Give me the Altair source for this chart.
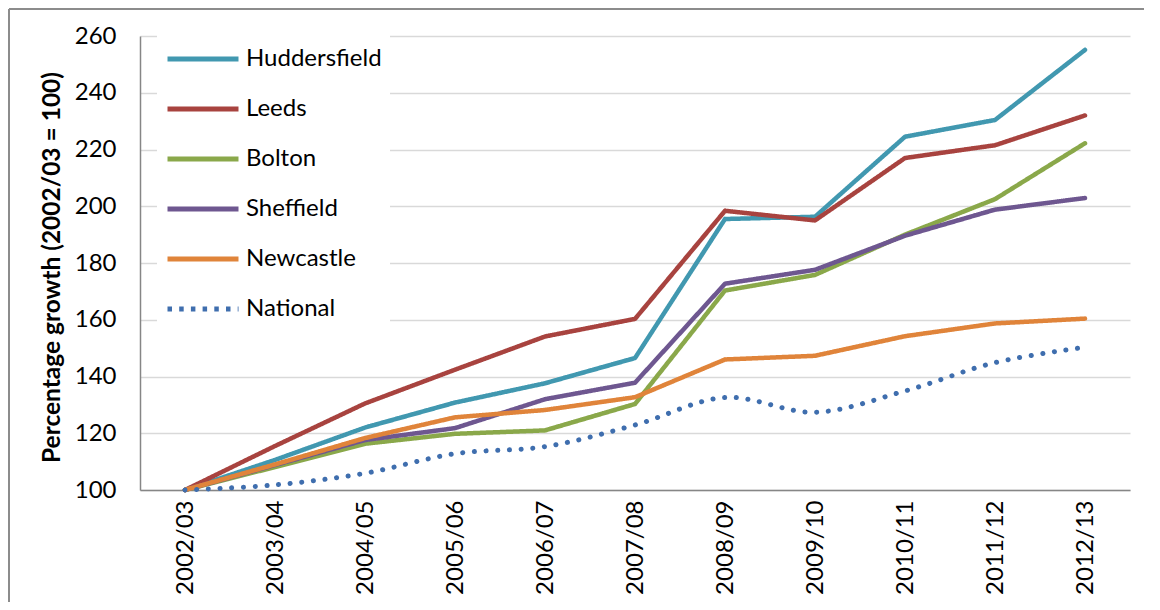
import altair as alt
import pandas as pd

FONT = "Lato"

years = ["2002/03", "2003/04", "2004/05", "2005/06", "2006/07", "2007/08",
         "2008/09", "2009/10", "2010/11", "2011/12", "2012/13"]

huddersfield = [100, 110.6, 122.0, 130.8, 137.6, 146.5, 195.5, 196.3, 224.5, 230.4, 255.1]
leeds = [100, 115.5, 130.5, 142.4, 154.1, 160.3, 198.4, 195.0, 217.0, 221.5, 232.0]
bolton = [100, 108.1, 116.3, 119.8, 121.0, 130.3, 170.3, 175.8, 190.0, 202.5, 222.2]
sheffield = [100, 108.8, 117.6, 121.8, 132.0, 137.8, 172.7, 177.6, 189.6, 198.8, 202.9]
newcastle = [100, 109.0, 118.3, 125.6, 128.2, 132.7, 146.0, 147.3, 154.2, 158.7, 160.4]
national = [100, 101.8, 105.9, 112.8, 115.3, 122.9, 132.6, 127.4, 134.9, 144.9, 150.3]

series_names = ["Huddersfield", "Leeds", "Bolton", "Sheffield", "Newcastle", "National"]
series_values = [huddersfield, leeds, bolton, sheffield, newcastle, national]
colors = ["#4198B0", "#A8433F", "#8AA84A", "#6E5790", "#E0843A", "#3F6EAE"]
# legend dash patterns (National drawn dotted)
legend_dashes = [[1, 0], [1, 0], [1, 0], [1, 0], [1, 0], [4.5, 7.2]]
national_dash = [0.1, 11.6]

y_ticks = [100, 120, 140, 160, 180, 200, 220, 240, 260]

rows = []
for name, vals in zip(series_names, series_values):
    for yr, v in zip(years, vals):
        rows.append({"series": name, "year": yr, "value": v})
df = pd.DataFrame(rows)

legend = alt.Legend(
    title=None, orient="none", legendX=17, legendY=-23,
    fillColor="white", padding=8,
    symbolType="stroke", symbolSize=5041, symbolStrokeWidth=5,
    labelFontSize=24, labelFont=FONT, labelColor="black",
    labelOffset=5, rowPadding=-2, labelLimit=400,
)

color = alt.Color("series:N", sort=series_names,
                  scale=alt.Scale(domain=series_names, range=colors), legend=legend)
dash = alt.StrokeDash("series:N", sort=series_names,
                      scale=alt.Scale(domain=series_names, range=legend_dashes), legend=legend)

x = alt.X("year:N", sort=years, title=None,
          axis=alt.Axis(labelAngle=-90, labelFontSize=24, labelFont=FONT,
                        labelColor="black", labelPadding=10, ticks=False,
                        domainColor="#868686", domainWidth=1.5, grid=False))
y = alt.Y("value:Q", scale=alt.Scale(domain=[100, 260], nice=False, zero=False),
          axis=alt.Axis(values=y_ticks, title="Percentage growth (2002/03 = 100)",
                        titleFontSize=24.5, titleFont=FONT, titleFontWeight="bold",
                        titleColor="black", titleX=-88, titleY=231,
                        titleAngle=-90, titleAlign="center", titleBaseline="middle",
                        labelFontSize=24, labelFont=FONT, labelColor="black",
                        labelPadding=24, ticks=False, grid=True,
                        gridColor="#D9D9D9", gridWidth=1.5,
                        domainColor="#868686", domainWidth=1.5))

base = alt.Chart(df)

cities = base.transform_filter(alt.datum.series != "National").mark_line(
    strokeWidth=4.5, strokeCap="round", strokeJoin="round"
).encode(x=x, y=y, color=color, strokeDash=dash)

nat = base.transform_filter(alt.datum.series == "National").mark_line(
    strokeWidth=5, strokeCap="round", interpolate="catmull-rom",
    strokeDash=national_dash
).encode(x=x, y=y, color=color)

frame_df = pd.DataFrame({"k": [0]})
frame_left = alt.Chart(frame_df).mark_rule(color="#8C8C8C", strokeWidth=2).encode(
    x=alt.value(-131), y=alt.value(-27), y2=alt.value(570))
frame_top = alt.Chart(frame_df).mark_rule(color="#8C8C8C", strokeWidth=2).encode(
    x=alt.value(-131), x2=alt.value(1010), y=alt.value(-27))

chart = alt.layer(cities, nat, frame_left, frame_top).properties(
    width=990, height=454,
    autosize=alt.AutoSizeParams(type="none"),
    padding={"left": 132, "top": 28, "right": 14, "bottom": 112},
    background="white",
).configure_view(stroke=None)

chart.save("out.html", embed_options={"renderer": "svg", "actions": False})
